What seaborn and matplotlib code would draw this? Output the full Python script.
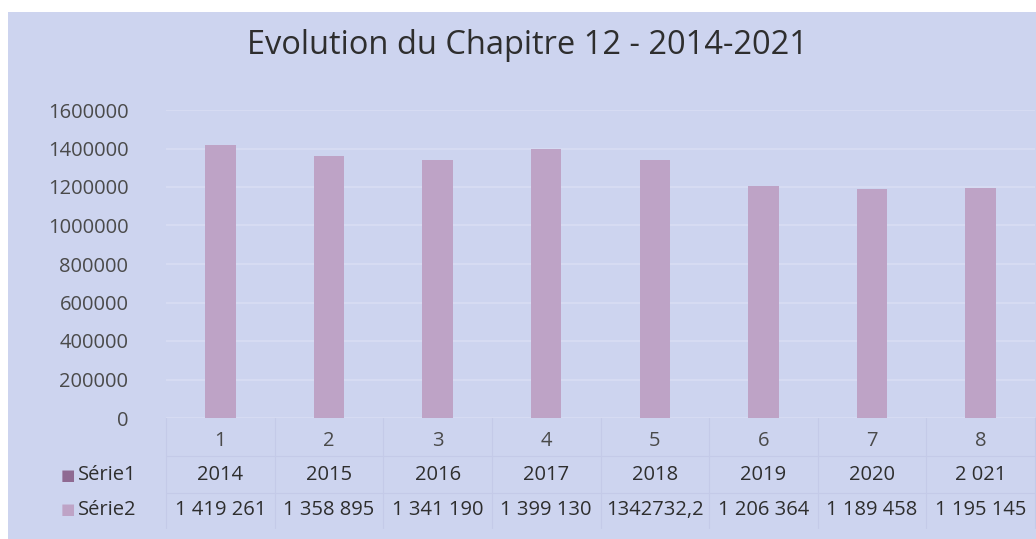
"""Evolution du Chapitre 12 (2014-2021): Excel-style bar chart with data table."""

import matplotlib.pyplot as plt
import matplotlib.transforms as mtransforms
import pandas as pd
import seaborn as sns

# --- data -----------------------------------------------------------------
categories = ["1", "2", "3", "4", "5", "6", "7", "8"]
serie1_labels = ["2014", "2015", "2016", "2017", "2018", "2019", "2020", "2 021"]
serie2_values = [1419261, 1358895, 1341190, 1399130, 1342732.2, 1206364, 1189458, 1195145]
serie2_labels = ["1 419 261", "1 358 895", "1 341 190", "1 399 130", "1342732,2",
                 "1 206 364", "1 189 458", "1 195 145"]
y_ticks = [0, 200000, 400000, 600000, 800000, 1000000, 1200000, 1400000, 1600000]
title = "Evolution du Chapitre 12 - 2014-2021"

BG = "#cdd4ef"
BAR = "#bea3c6"
SWATCH1 = "#8f6a92"
TEXT = "#2e2e2e"
TICK = "#4a4a4a"
LINE = "#c4cae8"

W, H = 1036, 539
sns.set_style("white")
plt.rcParams["font.family"] = ["Open Sans", "DejaVu Sans"]

fig = plt.figure(figsize=(W / 100, H / 100), dpi=100, facecolor="white")
# chart area background (white scan margin on top and left)
fig.patches.append(plt.Rectangle((8 / W, 0), 1 - 8 / W, 1 - 12 / H,
                                 transform=fig.transFigure, facecolor=BG,
                                 edgecolor="none", zorder=-10))

ax = fig.add_axes([166 / W, 1 - 418 / H, (1035 - 166) / W, (418 - 110) / H])
ax.set_zorder(1)
ax.set_facecolor("none")

df = pd.DataFrame({"cat": categories, "value": serie2_values})
sns.barplot(data=df, x="cat", y="value", color=BAR, width=0.28,
            saturation=1, linewidth=0, ax=ax, zorder=3)

ax.set_xlim(-0.5, len(categories) - 0.5)
ax.set_ylim(0, 1600000)
ax.set_yticks(y_ticks)
ax.set_yticklabels([str(t) for t in y_ticks])
ax.yaxis.grid(True, color="#d9ddf3", linewidth=1.2)
ax.set_axisbelow(True)
for s in ax.spines.values():
    s.set_visible(False)
ax.tick_params(axis="y", length=0, pad=27, labelsize=14.5, labelcolor=TICK)
ax.tick_params(axis="x", length=0, pad=9, labelsize=14.5, labelcolor=TICK)
ax.set_xlabel("")
ax.set_ylabel("")

# --- data table below the axis -------------------------------------------
trans = mtransforms.blended_transform_factory(ax.transData, ax.transAxes)
row1_y = (418 - 475) / 308
row2_y = (418 - 510) / 308
for i in range(len(categories)):
    ax.text(i, row1_y, serie1_labels[i], transform=trans, ha="center",
            va="center", fontsize=14.5, color=TEXT)
    ax.text(i, row2_y, serie2_labels[i], transform=trans, ha="center",
            va="center", fontsize=14.5, color=TEXT)

# faint table grid
for b in range(len(categories) + 1):
    ax.plot([b - 0.5, b - 0.5], [0, (418 - 528) / 308], transform=trans,
            color=LINE, linewidth=0.8, clip_on=False, zorder=1)
for yy in [(418 - 456) / 308, (418 - 493) / 308]:
    ax.plot([-0.5, len(categories) - 0.5], [yy, yy], transform=trans,
            color=LINE, linewidth=0.8, clip_on=False, zorder=1)

# series labels with swatches
fig.text(61 / W, 1 - 475 / H, "■", family="DejaVu Sans", fontsize=11,
         color=SWATCH1, va="center", ha="left")
fig.text(78 / W, 1 - 475 / H, "Série1", fontsize=14.5, color=TEXT,
         va="center", ha="left")
fig.text(61 / W, 1 - 510 / H, "■", family="DejaVu Sans", fontsize=11,
         color=BAR, va="center", ha="left")
fig.text(78 / W, 1 - 510 / H, "Série2", fontsize=14.5, color=TEXT,
         va="center", ha="left")

fig.text(527 / W, 1 - 46 / H, title, fontsize=23.5, color=TEXT,
         ha="center", va="center")

fig.savefig("out.png", dpi=100, facecolor="white")
